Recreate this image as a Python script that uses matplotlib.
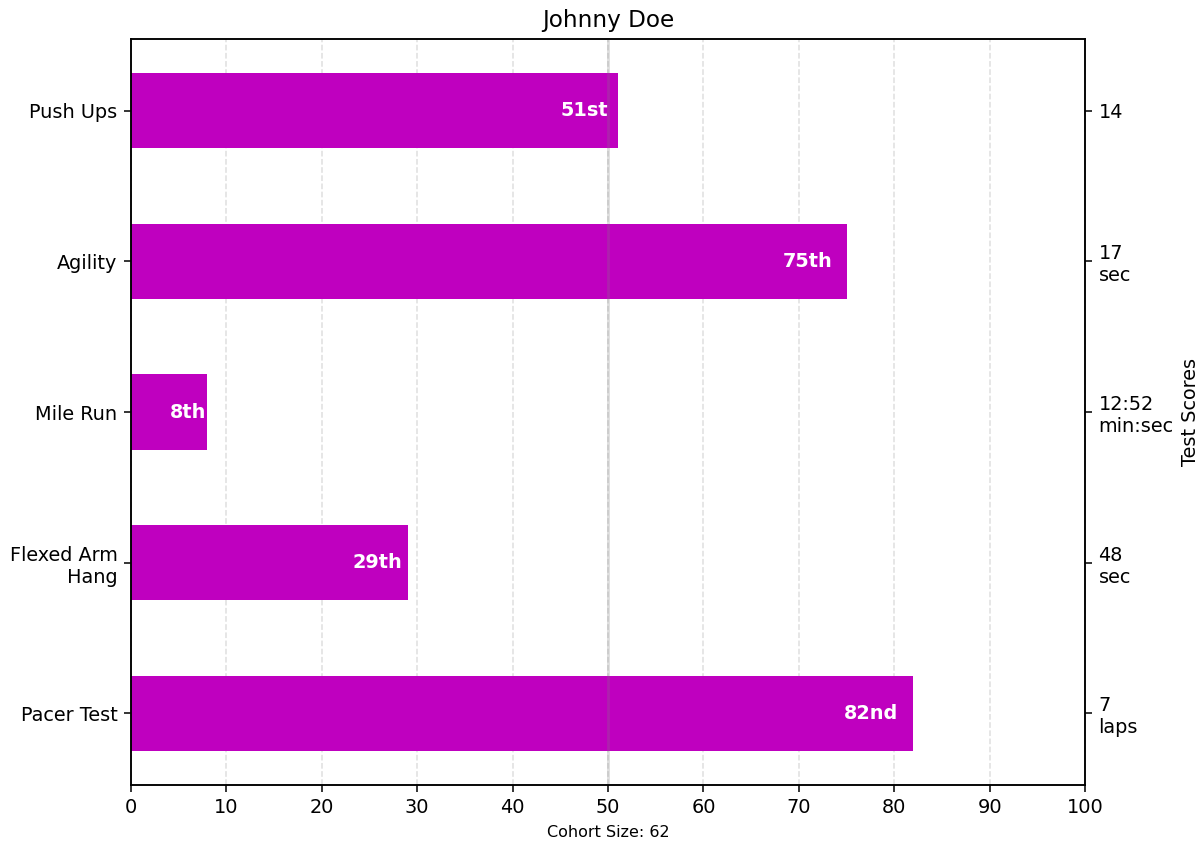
import numpy as np
import matplotlib
matplotlib.use("Agg")
import matplotlib.pyplot as plt
from matplotlib.ticker import MaxNLocator

student_name = "Johnny Doe"
cohort_size = 62
test_names = ["Pacer Test", "Flexed Arm\n Hang", "Mile Run", "Agility", "Push Ups"]
percentiles = [82, 29, 8, 75, 51]
rank_labels = ["82nd", "29th", "8th", "75th", "51st"]
score_labels = ["7\nlaps", "48\nsec", "12:52\nmin:sec", "17\nsec", "14"]

dpi = 138.6
fig = plt.figure(figsize=(1202 / dpi, 843 / dpi), dpi=dpi)
ax1 = fig.add_axes([0.109, 0.0688, 0.7937, 0.8849])

pos = np.arange(len(test_names))
rects = ax1.barh(pos, percentiles, align='center', height=0.5, color='m',
                 tick_label=test_names, zorder=2)
ax1.set_title(student_name)
ax1.set_xlim([0, 100])
ax1.xaxis.set_major_locator(MaxNLocator(11))
ax1.xaxis.grid(True, linestyle='--', which='major', color='grey', alpha=.25)
ax1.set_axisbelow(True)
ax1.axvline(50, color='grey', alpha=0.25, zorder=4)
ax1.text(.5, -.07, 'Cohort Size: {0}'.format(cohort_size),
         horizontalalignment='center', size='small', transform=ax1.transAxes)

# second axis for the raw scores
ax2 = ax1.twinx()
ax2.set_yticks(pos)
ax2.set_ylim(ax1.get_ylim())
ax2.set_yticklabels(score_labels)
ax2.set_ylabel('Test Scores')

for rect, rank in zip(rects, rank_labels):
    width = rect.get_width()
    if width < 5:
        xloc = width + 1
        clr = 'black'
        align = 'left'
    else:
        xloc = 0.98 * width
        clr = 'white'
        align = 'right'
    yloc = rect.get_y() + rect.get_height() / 2.0
    ax1.text(xloc, yloc, rank, horizontalalignment=align,
             verticalalignment='center', color=clr, weight='bold',
             clip_on=True, zorder=3)

fig.savefig("out.png", dpi=dpi)
